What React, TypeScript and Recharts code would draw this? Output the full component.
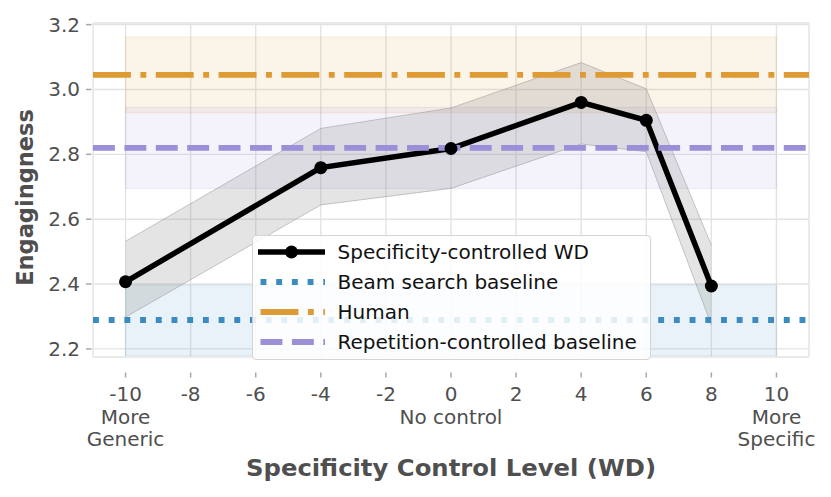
import {
  Area,
  CartesianGrid,
  ComposedChart,
  Legend,
  Line,
  ReferenceArea,
  ReferenceLine,
  XAxis,
  YAxis,
} from "recharts";

// specificity-controlled weighted decoding, mean and CI per control level
const wdLevels = [-10, -4, 0, 4, 6, 8];
const wdMean = [2.407, 2.759, 2.818, 2.96, 2.905, 2.394];
const wdLow = [2.298, 2.644, 2.695, 2.832, 2.808, 2.274];
const wdHigh = [2.532, 2.88, 2.943, 3.083, 3.002, 2.52];

// flat baselines (beam search, human, repetition-controlled)
const baselineNames = ["Beam search baseline", "Human", "Repetition-controlled baseline"];
const baselineMean = [2.289, 3.045, 2.82];
const baselineLow = [2.18, 2.928, 2.695];
const baselineHigh = [2.397, 3.162, 2.945];
const bandFrom = -10;
const bandTo = 10;

const seriesName = "Specificity-controlled WD";

const xTicks = [-10, -8, -6, -4, -2, 0, 2, 4, 6, 8, 10];
const yTicks = [2.2, 2.4, 2.6, 2.8, 3.0, 3.2];
const noteLevels = [-10, 0, 10];
const noteLines = [["More", "Generic"], ["No control"], ["More", "Specific"]];

const baselineColors = ["#3a8bc0", "#de9a33", "#9b8fd8"];
const baselineDash = ["5.9 9.8", "37.9 9.5 5.9 9.5", "21.9 9.5"];
const textGray = "#4f4f4f";

const data = wdLevels.map((x, i) => ({
  x,
  wd: wdMean[i],
  ci: [wdLow[i], wdHigh[i]],
}));

function XTick(props: any) {
  const { x, y, payload } = props;
  const idx = noteLevels.indexOf(payload.value);
  const notes = idx >= 0 ? noteLines[idx] : [];
  return (
    <g>
      <line x1={x} x2={x} y1={y + 15.5} y2={y + 20.5} stroke="#a8a8a8" strokeWidth={1.5} />
      <text x={x} y={y + 43.5} textAnchor="middle" fontSize={20} fill={textGray}>
        {String(payload.value)}
      </text>
      {notes.map((t, i) => (
        <text key={t} x={x} y={y + 66.5 + i * 22.5} textAnchor="middle" fontSize={20} fill={textGray}>
          {t}
        </text>
      ))}
    </g>
  );
}

function YTick(props: any) {
  const { x, y, payload } = props;
  return (
    <g>
      <line x1={x - 7} x2={x - 1.5} y1={y} y2={y} stroke="#a8a8a8" strokeWidth={1.5} />
      <text x={x - 13} y={y + 7} textAnchor="end" fontSize={20} fill={textGray}>
        {payload.value.toFixed(1)}
      </text>
    </g>
  );
}

function Handle({ kind }: { kind: number }) {
  if (kind < 0) {
    return (
      <svg width={67} height={20}>
        <line x1={0} x2={67} y1={10} y2={10} stroke="#000" strokeWidth={5.5} />
        <circle cx={33.5} cy={10} r={6.5} fill="#000" />
      </svg>
    );
  }
  return (
    <svg width={67} height={20}>
      <line
        x1={2.5}
        x2={67}
        y1={10}
        y2={10}
        stroke={baselineColors[kind]}
        strokeWidth={5.9}
        strokeDasharray={baselineDash[kind]}
      />
    </svg>
  );
}

function LegendBox() {
  const rows = [{ name: seriesName, kind: -1 }, ...baselineNames.map((name, kind) => ({ name, kind }))];
  return (
    <div
      style={{
        boxSizing: "border-box",
        width: 399,
        height: 125,
        border: "1px solid #d4d4d4",
        borderRadius: 4,
        background: "rgba(255,255,255,0.85)",
        padding: "1px 0 0 4.5px",
      }}
    >
      {rows.map((r) => (
        <div key={r.name} style={{ display: "flex", alignItems: "center", height: 30 }}>
          <Handle kind={r.kind} />
          <span style={{ marginLeft: 13, fontSize: 20, color: "#111", whiteSpace: "nowrap" }}>{r.name}</span>
        </div>
      ))}
    </div>
  );
}

export default function App() {
  return (
    <div style={{ position: "absolute", left: 0, top: 0, width: 831, height: 497, background: "#fff", fontFamily: "DejaVu Sans" }}>
      <ComposedChart width={831} height={497} data={data} margin={{ top: 23, right: 22, left: 13, bottom: 20 }}>
        <CartesianGrid stroke="#e3e3e3" strokeWidth={1.4} />
        <XAxis
          type="number"
          dataKey="x"
          domain={[-11, 11]}
          ticks={xTicks}
          allowDataOverflow
          height={120}
          axisLine={false}
          tickLine={false}
          tickSize={0}
          tickMargin={0}
          interval={0}
          tick={<XTick />}
          label={() => (
            <text
              x={451}
              y={476}
              textAnchor="middle"
              fontSize={23}
              fontWeight="bold"
              fill={textGray}
              textLength={410}
              lengthAdjust="spacingAndGlyphs"
            >
              Specificity Control Level (WD)
            </text>
          )}
        />
        <YAxis
          type="number"
          domain={[2.175, 3.205]}
          ticks={yTicks}
          allowDataOverflow
          width={80}
          axisLine={false}
          tickLine={false}
          tickSize={0}
          tickMargin={0}
          interval={0}
          tick={<YTick />}
          label={() => (
            <text
              x={25}
              y={197.5}
              transform="rotate(-90 25 197.5)"
              textAnchor="middle"
              dominantBaseline="central"
              fontSize={22.5}
              fontWeight="bold"
              fill={textGray}
            >
              Engagingness
            </text>
          )}
        />
        {baselineNames.map((name, i) => (
          <ReferenceArea
            key={`band-${name}`}
            x1={bandFrom}
            x2={bandTo}
            y1={baselineLow[i]}
            y2={baselineHigh[i]}
            fill={baselineColors[i]}
            fillOpacity={0.11}
            stroke={baselineColors[i]}
            strokeOpacity={0.15}
            strokeWidth={1}
          />
        ))}
        <Area
          type="linear"
          dataKey="ci"
          stroke="#8a8a8a"
          strokeOpacity={0.45}
          strokeWidth={1}
          fill="#8f8f8f"
          fillOpacity={0.24}
          dot={false}
          activeDot={false}
          isAnimationActive={false}
          legendType="none"
        />
        <Line
          type="linear"
          dataKey="wd"
          name={seriesName}
          stroke="#000"
          strokeWidth={5.5}
          dot={{ r: 6.5, fill: "#000", stroke: "#000", strokeWidth: 0 }}
          activeDot={false}
          isAnimationActive={false}
        />
        {baselineNames.map((name, i) => (
          <ReferenceLine
            key={`line-${name}`}
            y={baselineMean[i]}
            stroke={baselineColors[i]}
            strokeWidth={5.9}
            strokeDasharray={baselineDash[i]}
          />
        ))}
        <Legend
          layout="vertical"
          align="center"
          verticalAlign="middle"
          wrapperStyle={{ left: 252, top: 235, width: 399, height: 125 }}
          content={() => <LegendBox />}
        />
      </ComposedChart>
    </div>
  );
}
